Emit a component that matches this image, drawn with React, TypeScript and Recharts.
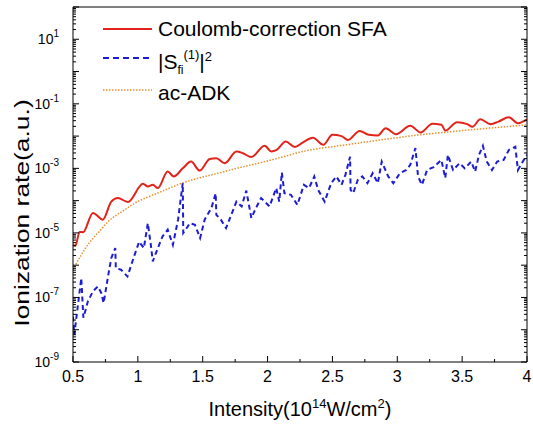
import React from 'react';
import { LineChart, Line, XAxis, YAxis, Legend } from 'recharts';

// intensity in 1e14 W/cm^2, rates stored as log10 values
const ccsfaX = [0.5, 0.518, 0.551, 0.577, 0.654, 0.73, 0.795, 0.846, 0.923, 1.04, 1.077, 1.115, 1.154, 1.23, 1.277, 1.346, 1.41, 1.477, 1.554, 1.605, 1.67, 1.76, 1.81, 1.875, 1.977, 2.03, 2.07, 2.14, 2.21, 2.27, 2.35, 2.43, 2.5, 2.57, 2.62, 2.71, 2.78, 2.85, 2.91, 2.99, 3.1, 3.18, 3.27, 3.34, 3.37, 3.46, 3.54, 3.58, 3.64, 3.72, 3.78, 3.86, 3.93, 4.0];
const ccsfaLog = [-5.37, -5.4, -4.97, -4.98, -4.38, -4.59, -4.03, -3.92, -4.04, -3.48, -3.56, -3.51, -3.61, -3.1, -3.25, -3.0, -2.79, -3.07, -2.71, -2.69, -2.84, -2.48, -2.53, -2.65, -2.3, -2.48, -2.43, -2.17, -2.34, -2.2, -2.05, -2.27, -1.96, -2.0, -2.12, -1.84, -1.96, -1.98, -1.76, -1.94, -1.68, -1.89, -1.62, -1.65, -1.83, -1.57, -1.63, -1.71, -1.48, -1.63, -1.55, -1.42, -1.6, -1.48];

const sfiX = [0.5, 0.51, 0.54, 0.564, 0.58, 0.615, 0.654, 0.692, 0.718, 0.736, 0.77, 0.795, 0.826, 0.83, 0.87, 0.92, 0.975, 1.01, 1.046, 1.077, 1.1, 1.115, 1.154, 1.19, 1.23, 1.27, 1.31, 1.346, 1.35, 1.385, 1.4, 1.44, 1.48, 1.515, 1.567, 1.6, 1.605, 1.64, 1.68, 1.72, 1.76, 1.8, 1.836, 1.875, 1.91, 1.95, 2.015, 2.067, 2.09, 2.11, 2.13, 2.18, 2.23, 2.28, 2.32, 2.36, 2.39, 2.44, 2.49, 2.53, 2.57, 2.6, 2.636, 2.64, 2.66, 2.695, 2.73, 2.77, 2.81, 2.85, 2.88, 2.93, 2.97, 3.02, 3.07, 3.1, 3.14, 3.16, 3.19, 3.23, 3.28, 3.34, 3.37, 3.39, 3.43, 3.48, 3.52, 3.57, 3.6, 3.63, 3.66, 3.69, 3.73, 3.77, 3.82, 3.86, 3.91, 3.93, 3.96, 4.0];
const sfiLog = [-7.59, -8.15, -7.17, -6.4, -7.63, -7.12, -6.81, -6.66, -6.86, -7.17, -6.35, -5.78, -5.47, -6.09, -6.14, -6.35, -5.68, -5.27, -5.47, -4.7, -5.37, -5.88, -5.47, -5.11, -4.9, -5.37, -4.59, -3.46, -5.0, -4.8, -4.7, -4.75, -5.16, -4.59, -4.23, -3.77, -4.44, -4.59, -4.85, -4.44, -4.03, -4.18, -3.69, -4.54, -4.23, -3.92, -4.18, -3.61, -4.03, -3.13, -3.77, -3.82, -4.13, -3.51, -3.61, -3.25, -3.67, -4.03, -3.46, -3.25, -3.51, -3.2, -2.64, -3.67, -3.77, -3.36, -3.25, -3.46, -3.15, -3.46, -2.79, -3.25, -3.46, -3.15, -3.05, -2.89, -2.37, -3.25, -3.51, -3.05, -2.96, -2.74, -3.3, -2.58, -3.05, -2.84, -3.0, -2.79, -3.1, -2.58, -2.3, -2.79, -3.05, -2.79, -2.74, -2.43, -2.33, -3.05, -2.84, -2.58];

const adkX = [0.5, 0.564, 0.6, 0.667, 0.7, 0.77, 0.8, 0.9, 0.975, 1.1, 1.18, 1.36, 1.5, 1.62, 1.75, 1.875, 2.0, 2.13, 2.28, 2.4, 2.55, 2.71, 2.85, 3.0, 3.17, 3.35, 3.55, 3.75, 4.0];
const adkLog = [-6.14, -5.68, -5.45, -5.11, -4.97, -4.65, -4.55, -4.28, -4.08, -3.85, -3.72, -3.43, -3.27, -3.15, -3.01, -2.89, -2.77, -2.63, -2.47, -2.38, -2.3, -2.21, -2.13, -2.05, -1.96, -1.89, -1.81, -1.74, -1.65];

const xTickLabels = [0.5, 1, 1.5, 2, 2.5, 3, 3.5, 4];
const xMinorTicks = [0.75, 1.25, 1.75, 2.25, 2.75, 3.25, 3.75];
const yLabelExps = [-9, -7, -5, -3, -1, 1];
const yDecades = [-9, -8, -7, -6, -5, -4, -3, -2, -1, 0, 1];

const toPoints = (xs: number[], logs: number[]) => xs.map((x, i) => ({ x, y: Math.pow(10, logs[i]) }));
const ccsfa = toPoints(ccsfaX, ccsfaLog);
const sfi = toPoints(sfiX, sfiLog);
const adk = toPoints(adkX, adkLog);

const xTicks = [...xTickLabels, ...xMinorTicks].sort((a, b) => a - b);
const yTicks: number[] = [];
yDecades.forEach(d => {
  for (let m = 1; m <= 9; m++) yTicks.push(m * Math.pow(10, d));
});
yTicks.push(100);

const FONT = '"Liberation Sans", Arial, sans-serif';
const RED = '#e2231a';
const BLUE = '#1c1cd6';
const ORANGE = '#e8902e';

const isDecade = (v: number) => {
  const e = Math.round(Math.log10(v));
  return Math.abs(v / Math.pow(10, e) - 1) < 1e-6 ? e : null;
};

const LeftTick = (props: any) => {
  const { x, y, payload } = props;
  const e = isDecade(payload.value);
  const len = e !== null ? 6 : 3;
  return (
    <g>
      <line x1={x} x2={x + len} y1={y} y2={y} stroke="#000" strokeWidth={1} />
      {e !== null && yLabelExps.includes(e) && (
        <text x={x - 14} y={y + 5} textAnchor="end" fontSize={14} fontFamily={FONT} fill="#000">
          10<tspan dy={-7} fontSize={10}>{e}</tspan>
        </text>
      )}
    </g>
  );
};

const RightTick = (props: any) => {
  const { x, y, payload } = props;
  const e = isDecade(payload.value);
  const len = e !== null ? 6 : 3;
  return <line x1={x} x2={x - len} y1={y} y2={y} stroke="#000" strokeWidth={1} />;
};

const BottomTick = (props: any) => {
  const { x, y, payload } = props;
  const major = xTickLabels.includes(payload.value);
  return (
    <g>
      <line x1={x} x2={x} y1={y} y2={y - (major ? 6 : 3)} stroke="#000" strokeWidth={1} />
      {major && (
        <text x={x} y={y + 20} textAnchor="middle" fontSize={16} fontFamily={FONT} fill="#000">
          {payload.value}
        </text>
      )}
    </g>
  );
};

const XTitle = (props: any) => {
  const { viewBox } = props;
  return (
    <text x={viewBox.x + viewBox.width / 2} y={viewBox.y + 54} textAnchor="middle" fontSize={20} fontFamily={FONT} fill="#000">
      Intensity(10<tspan dy={-8} fontSize={13}>14</tspan>
      <tspan dy={8}>W/cm</tspan>
      <tspan dy={-8} fontSize={13}>2</tspan>
      <tspan dy={8}>)</tspan>
    </text>
  );
};

const YTitle = () => (
  <g transform="translate(29, 213) rotate(-90) scale(1.32, 1)">
    <text x={0} y={0} textAnchor="middle" fontSize={20} fontFamily={FONT} fill="#000">
      Ionization rate(a.u.)
    </text>
  </g>
);

const LegendBox = () => (
  <svg width={300} height={100} style={{ display: 'block' }}>
    <g fontFamily={FONT} fill="#000">
      <line x1={3} x2={52} y1={14} y2={14} stroke={RED} strokeWidth={2} />
      <text x={58} y={21} fontSize={21}>Coulomb-correction SFA</text>
      <line x1={3} x2={52} y1={43} y2={43} stroke={BLUE} strokeWidth={2} strokeDasharray="6 4" />
      <text x={58} y={54} fontSize={21}>
        |S<tspan dy={5} fontSize={12}>fi</tspan>
        <tspan dy={-15} fontSize={13}>(1)</tspan>
        <tspan dy={10} fontSize={21}>|</tspan>
        <tspan dy={-8} fontSize={13}>2</tspan>
      </text>
      <line x1={3} x2={52} y1={75} y2={75} stroke={ORANGE} strokeWidth={1.5} strokeDasharray="1.5 1.5" />
      <text x={58} y={85} fontSize={21}>ac-ADK</text>
    </g>
  </svg>
);

export default function App() {
  return (
    <div style={{ position: 'absolute', left: 0, top: 0, width: 533, height: 425, background: '#fff' }}>
      <LineChart width={533} height={425} margin={{ top: 6, right: 5, bottom: 0, left: 0 }}>
        <XAxis
          dataKey="x"
          type="number"
          domain={[0.5, 4]}
          ticks={xTicks}
          interval={0}
          allowDataOverflow
          tick={<BottomTick />}
          tickLine={false}
          tickSize={0}
          tickMargin={0}
          height={63}
          stroke="#000"
          label={<XTitle />}
        />
        <XAxis xAxisId="top" orientation="top" type="number" domain={[0.5, 4]} tick={false} tickLine={false} height={1} stroke="#000" />
        <YAxis
          type="number"
          scale="log"
          domain={[1e-9, 100]}
          allowDataOverflow
          ticks={yTicks}
          interval={0}
          tick={<LeftTick />}
          tickLine={false}
          tickSize={0}
          tickMargin={0}
          width={73}
          stroke="#000"
          label={<YTitle />}
        />
        <YAxis
          yAxisId="right"
          orientation="right"
          type="number"
          scale="log"
          domain={[1e-9, 100]}
          allowDataOverflow
          ticks={yTicks}
          interval={0}
          tick={<RightTick />}
          tickLine={false}
          tickSize={0}
          tickMargin={0}
          width={1}
          stroke="#000"
        />
        <Legend
          layout="vertical"
          align="center"
          verticalAlign="middle"
          content={<LegendBox />}
          wrapperStyle={{ left: 100, top: 15, width: 300, height: 100 }}
        />
        <Line data={adk} dataKey="y" name="ac-ADK" type="monotone" stroke={ORANGE} strokeWidth={1.5} strokeDasharray="1.5 1.5" dot={false} activeDot={false} isAnimationActive={false} />
        <Line data={sfi} dataKey="y" name="|Sfi(1)|2" type="linear" stroke={BLUE} strokeWidth={2} strokeDasharray="5 3.5" dot={false} activeDot={false} isAnimationActive={false} />
        <Line data={ccsfa} dataKey="y" name="Coulomb-correction SFA" type="monotone" stroke={RED} strokeWidth={2} dot={false} activeDot={false} isAnimationActive={false} />
      </LineChart>
    </div>
  );
}
